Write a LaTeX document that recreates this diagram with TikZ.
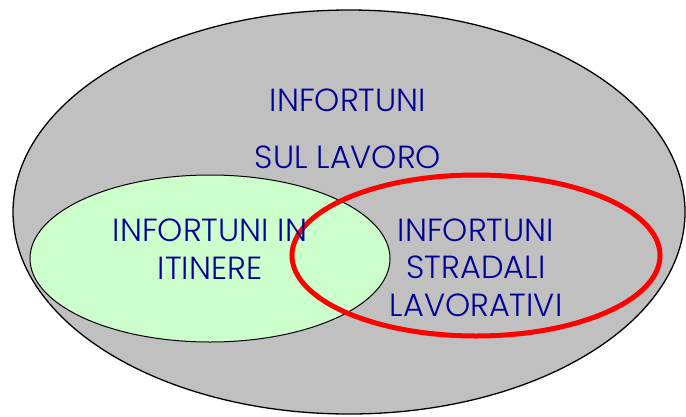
\documentclass[tikz,border=0pt]{standalone}
\usepackage{fontspec}
\setmainfont{Poppins Light}
\usetikzlibrary{shapes.geometric}
\definecolor{setgrey}{HTML}{C0C0C0}
\definecolor{setgreen}{HTML}{CCFFCC}
\definecolor{setred}{HTML}{FF0000}
\definecolor{labelblue}{HTML}{000099}
\tikzset{
  setshape/.style={ellipse, inner sep=0pt, draw=black},
  label text/.style={text=labelblue, font=\fontsize{32}{37}\selectfont, align=center, inner sep=0pt}
}
\begin{document}
\begin{tikzpicture}[x=1pt,y=-1pt]
  \useasboundingbox (0,0) rectangle (686,416);
  \fill[white] (0,0) rectangle (686,416);
  % outer set: all work accidents
  \node[setshape, fill=setgrey, line width=1.3pt, minimum width=672pt, minimum height=404pt] (lavoro) at (349,212) {};
  % commuting accidents
  \node[setshape, fill=setgreen, line width=1pt, minimum width=360pt, minimum height=167pt] (itinere) at (210,258.5) {};
  % road accidents at work
  \node[setshape, draw=setred, line width=5pt, minimum width=368pt, minimum height=161pt] (stradali) at (476,255.5) {};
  % labels
  \node[label text] (t1) at (348,100) {INFORTUNI};
  \node[label text] (t2) at (348,157) {SUL LAVORO};
  \node[label text] (t3) at (210,230) {INFORTUNI IN};
  \node[label text] (t4) at (210,268) {ITINERE};
  \node[label text] (t5) at (476,230) {INFORTUNI};
  \node[label text] (t6) at (476,267) {STRADALI};
  \node[label text] (t7) at (476,305) {LAVORATIVI};
\end{tikzpicture}
\end{document}
